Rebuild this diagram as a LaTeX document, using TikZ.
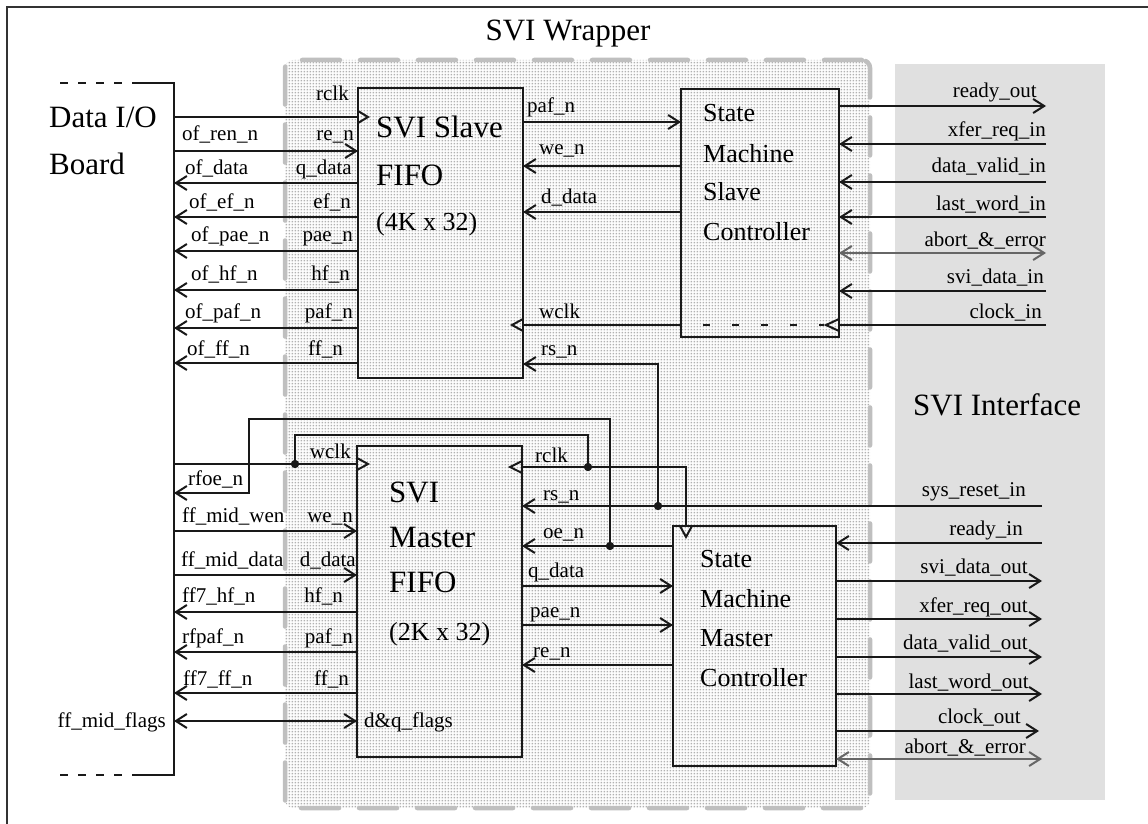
\documentclass[tikz,border=0pt]{standalone}
\usepackage{fontspec}
\setmainfont{Liberation Serif}
\usetikzlibrary{arrows.meta,patterns.meta}
\tikzdeclarepattern{
  name=wrapdots,
  type=uncolored,
  bottom left={(0pt,0pt)},
  top right={(3.4pt,3.4pt)},
  tile size={(3.4pt,3.4pt)},
  code={\fill (0.8pt,0.8pt) rectangle (2.6pt,2.6pt);}
}
\begin{document}
\begin{tikzpicture}[x=1pt,y=-1pt,
  box/.style={draw=black!90, line width=2pt, anchor=north west, inner sep=0pt, outer sep=0pt},
  sig/.style={draw=black!90, line width=2pt},
  arr/.style={sig, -{Straight Barb[length=11pt,width=14pt]}},
  darr/.style={sig, {Straight Barb[length=11pt,width=14pt]}-{Straight Barb[length=11pt,width=14pt]}},
  garr/.style={darr, draw=black!60},
  clk/.style={sig, line join=miter},
  lbl/.style={font=\fontsize{21}{24}\selectfont, inner sep=0pt},
  lw/.style={lbl, anchor=base west},
  le/.style={lbl, anchor=base east},
  big/.style={font=\fontsize{31}{36}\selectfont, inner sep=0pt, anchor=base west},
  mid/.style={font=\fontsize{26}{30}\selectfont, inner sep=0pt, anchor=base west},
  jdot/.style={circle, fill=black!90, inner sep=0pt, minimum size=8pt}
]
\useasboundingbox (0,0) rectangle (1148,824);
% frame
\draw[line width=1.5pt, draw=black!80] (7,824) -- (7,7) -- (1148,7);
% regions
\node[draw=black!25, line width=4.5pt, dash pattern=on 38pt off 20pt, line cap=round,
  rounded corners=8pt, pattern=wrapdots, pattern color=black!30,
  minimum width=585pt, minimum height=748pt, anchor=north west, inner sep=0pt, outer sep=0pt]
  (wrap) at (285,60) {};
\node[fill=black!12, minimum width=210pt, minimum height=736pt, anchor=north west,
  inner sep=0pt, outer sep=0pt] (intf) at (895,64) {};
\node[big, anchor=base] (twrap) at (568,41) {SVI Wrapper};
\node[big] (tintf) at (913,415) {SVI Interface};
% boxes
\node[box, minimum width=165pt, minimum height=290pt] (sf) at (358,88) {};
\node[box, minimum width=158pt, minimum height=248pt] (ss) at (681,89) {};
\node[box, minimum width=165pt, minimum height=311pt] (mf) at (357,446) {};
\node[box, minimum width=163pt, minimum height=240pt] (ms) at (673,526) {};
% box texts
\node[big] (sf1) at (376,138) {SVI Slave};
\node[big] (sf2) at (376,185) {FIFO};
\node[mid] (sf3) at (376,230) {(4K x 32)};
\node[mid] (ss1) at (703,122) {State};
\node[mid] (ss2) at (703,162) {Machine};
\node[mid] (ss3) at (703,200) {Slave};
\node[mid] (ss4) at (703,240) {Controller};
\node[big] (mf1) at (389,502) {SVI};
\node[big] (mf2) at (389,547) {Master};
\node[big] (mf3) at (389,592) {FIFO};
\node[mid] (mf4) at (389,640) {(2K x 32)};
\node[mid] (ms1) at (700,567) {State};
\node[mid] (ms2) at (700,607) {Machine};
\node[mid] (ms3) at (700,646) {Master};
\node[mid] (ms4) at (700,686) {Controller};
% board
\node[big] (bd1) at (49,128) {Data I/O};
\node[big] (bd2) at (49,175) {Board};
\coordinate (brdT) at (174,83);
\coordinate (brdB) at (174,775);
\draw[sig] (132,83) -- (brdT) -- (brdB) -- (132,775);
\draw[sig, dash pattern=on 8pt off 10pt] (60,83) -- (130,83);
\draw[sig, dash pattern=on 8pt off 10pt] (60,775) -- (130,775);
% outside coordinates
\coordinate (xr1) at (1046,0);
\coordinate (xr2) at (1042,0);
% ---------- slave FIFO left
\draw[sig] (brdT |- 0,117) -- (sf.west |- 0,117);
\draw[clk] (358,111) -- (368,117) -- (358,123);
\node[le] (l1) at (349,101) {rclk};
\draw[arr] (brdT |- 0,151) -- (sf.west |- 0,151);
\node[lw] (l2) at (182,140) {of\_ren\_n};
\node[le] (l3) at (354,140) {re\_n};
\draw[arr] (sf.west |- 0,183) -- (brdT |- 0,183);
\node[lw] (l4) at (185,175) {of\_data};
\node[le] (l5) at (352,175) {q\_data};
\draw[arr] (sf.west |- 0,217) -- (brdT |- 0,217);
\node[lw] (l6) at (189,208) {of\_ef\_n};
\node[le] (l7) at (351,208) {ef\_n};
\draw[arr] (sf.west |- 0,251) -- (brdT |- 0,251);
\node[lw] (l8) at (191,241) {of\_pae\_n};
\node[le] (l9) at (353,241) {pae\_n};
\draw[arr] (sf.west |- 0,290) -- (brdT |- 0,290);
\node[lw] (l10) at (191,280) {of\_hf\_n};
\node[le] (l11) at (350,280) {hf\_n};
\draw[arr] (sf.west |- 0,328) -- (brdT |- 0,328);
\node[lw] (l12) at (185,318) {of\_paf\_n};
\node[le] (l13) at (353,318) {paf\_n};
\draw[arr] (sf.west |- 0,363) -- (brdT |- 0,363);
\node[lw] (l14) at (187,355) {of\_ff\_n};
\node[le] (l15) at (343,355) {ff\_n};
% ---------- slave FIFO right
\draw[arr] (sf.east |- 0,122) -- (ss.west |- 0,122);
\node[lw] (l16) at (527,113) {paf\_n};
\draw[arr] (ss.west |- 0,166) -- (sf.east |- 0,166);
\node[lw] (l17) at (539,154) {we\_n};
\draw[arr] (ss.west |- 0,212) -- (sf.east |- 0,212);
\node[lw] (l18) at (541,203) {d\_data};
\draw[sig] (ss.west |- 0,325) -- (sf.east |- 0,325);
\draw[clk] (523,319) -- (512,325) -- (523,331);
\node[lw] (l19) at (539,318) {wclk};
\node[jdot] (rsj) at (658,506) {};
\draw[arr] (rsj.center) -- (rsj |- 0,364) -- (sf.east |- 0,364);
\node[lw] (l20) at (541,355) {rs\_n};
% ---------- slave SM right
\draw[arr] (ss.east |- 0,106) -- (xr1 |- 0,106);
\node[le] (l21) at (1037,98) {ready\_out};
\draw[arr] (xr1 |- 0,144) -- (ss.east |- 0,144);
\node[le] (l22) at (1046,136) {xfer\_req\_in};
\draw[arr] (xr1 |- 0,182) -- (ss.east |- 0,182);
\node[le] (l23) at (1046,172) {data\_valid\_in};
\draw[arr] (xr1 |- 0,217) -- (ss.east |- 0,217);
\node[le] (l24) at (1046,210) {last\_word\_in};
\draw[garr] (ss.east |- 0,253) -- (xr1 |- 0,253);
\node[le] (l25) at (1046,246) {abort\_\&\_error};
\draw[arr] (xr1 |- 0,291) -- (ss.east |- 0,291);
\node[le] (l26) at (1044,283) {svi\_data\_in};
\draw[sig] (xr1 |- 0,325) -- (ss.east |- 0,325);
\draw[clk] (839,319) -- (826,325) -- (839,331);
\draw[sig, dash pattern=on 7pt off 22pt] (703,325) -- (824,325);
\node[le] (l27) at (1042,318) {clock\_in};
% ---------- master FIFO left
\node[jdot] (wj) at (295,464) {};
\node[jdot] (rj) at (588,467) {};
\node[jdot] (oej) at (610,546) {};
\draw[sig] (brdT |- 0,464) -- (mf.west |- 0,464);
\draw[clk] (357,458) -- (368,464) -- (357,470);
\node[le] (l28) at (351,458) {wclk};
\draw[sig] (wj.center) -- (wj |- 0,435) -- (rj |- 0,435) -- (rj.center);
\draw[sig] (rj.center) -- (mf.east |- rj);
\draw[clk] (522,461) -- (510,467) -- (522,473);
\node[lw] (l29) at (535,462) {rclk};
\draw[sig] (rj.center) -- (686,467) -- (686,0 |- ms.north);
\draw[clk] (680,526) -- (686,537) -- (692,526);
\draw[arr] (oej.center) -- (oej |- 0,419) -- (249,419) -- (249,493) -- (brdT |- 0,493);
\node[lw] (l30) at (188,485) {rfoe\_n};
\draw[arr] (brdT |- 0,531) -- (mf.west |- 0,531);
\node[lw] (l31) at (182,522) {ff\_mid\_wen};
\node[le] (l32) at (353,522) {we\_n};
\draw[arr] (brdT |- 0,575) -- (mf.west |- 0,575);
\node[lw] (l33) at (181,566) {ff\_mid\_data};
\node[le] (l34) at (356,566) {d\_data};
\draw[arr] (mf.west |- 0,612) -- (brdT |- 0,612);
\node[lw] (l35) at (182,602) {ff7\_hf\_n};
\node[le] (l36) at (343,602) {hf\_n};
\draw[arr] (mf.west |- 0,652) -- (brdT |- 0,652);
\node[lw] (l37) at (182,643) {rfpaf\_n};
\node[le] (l38) at (353,643) {paf\_n};
\draw[arr] (mf.west |- 0,693) -- (brdT |- 0,693);
\node[lw] (l39) at (183,685) {ff7\_ff\_n};
\node[le] (l40) at (349,685) {ff\_n};
\draw[darr] (brdT |- 0,721) -- (mf.west |- 0,721);
\node[le] (l41) at (166,727) {ff\_mid\_flags};
\node[lw] (l42) at (364,727) {d\&q\_flags};
% ---------- master FIFO right
\draw[arr] (xr2 |- 0,506) -- (mf.east |- 0,506);
\node[lw] (l43) at (543,500) {rs\_n};
\node[le] (l44) at (1026,496) {sys\_reset\_in};
\draw[arr] (ms.west |- 0,546) -- (mf.east |- 0,546);
\node[lw] (l45) at (543,538) {oe\_n};
\draw[arr] (mf.east |- 0,586) -- (ms.west |- 0,586);
\node[lw] (l46) at (528,577) {q\_data};
\draw[arr] (mf.east |- 0,625) -- (ms.west |- 0,625);
\node[lw] (l47) at (530,617) {pae\_n};
\draw[arr] (ms.west |- 0,665) -- (mf.east |- 0,665);
\node[lw] (l48) at (533,657) {re\_n};
% ---------- master SM right
\draw[arr] (xr2 |- 0,543) -- (ms.east |- 0,543);
\node[le] (l49) at (1023,535) {ready\_in};
\draw[arr] (ms.east |- 0,581) -- (xr2 |- 0,581);
\node[le] (l50) at (1028,573) {svi\_data\_out};
\draw[arr] (ms.east |- 0,619) -- (xr2 |- 0,619);
\node[le] (l51) at (1028,612) {xfer\_req\_out};
\draw[arr] (ms.east |- 0,657) -- (xr2 |- 0,657);
\node[le] (l52) at (1028,649) {data\_valid\_out};
\draw[arr] (ms.east |- 0,694) -- (xr2 |- 0,694);
\node[le] (l53) at (1029,688) {last\_word\_out};
\draw[arr] (ms.east |- 0,731) -- (1039,731);
\node[le] (l54) at (1021,723) {clock\_out};
\draw[garr] (ms.east |- 0,759) -- (xr2 |- 0,759);
\node[le] (l55) at (1026,753) {abort\_\&\_error};
% dots on top
\fill[black!90] (rsj) circle (4pt) (wj) circle (4pt) (rj) circle (4pt) (oej) circle (4pt);
\end{tikzpicture}
\end{document}
